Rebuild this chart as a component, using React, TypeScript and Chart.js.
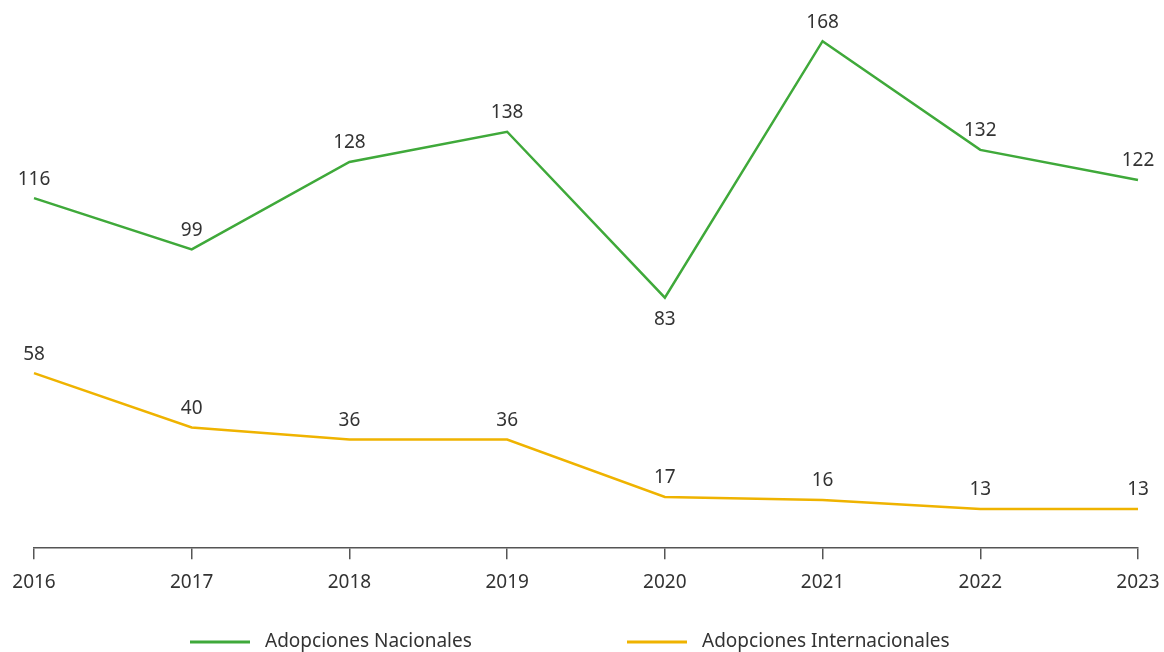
import React, { useEffect, useRef } from "react";
import { Chart, registerables } from "chart.js";

Chart.register(...registerables);

const years = ["2016", "2017", "2018", "2019", "2020", "2021", "2022", "2023"];
const nacionales = [116, 99, 128, 138, 83, 168, 132, 122];
const internacionales = [58, 40, 36, 36, 17, 16, 13, 13];
const seriesNames = ["Adopciones Nacionales", "Adopciones Internacionales"];
const seriesColors = ["#3fa93a", "#efb300"];
const labelBelow = [[false, false, false, false, true, false, false, false], [false, false, false, false, false, false, false, false]];

const FONT = "'Noto Sans', sans-serif";
const TEXT = "#333333";

const valueLabels = {
  id: "valueLabels",
  afterDatasetsDraw(chart: any) {
    const ctx = chart.ctx;
    ctx.save();
    ctx.font = `19px ${FONT}`;
    ctx.fillStyle = TEXT;
    ctx.textAlign = "center";
    ctx.textBaseline = "middle";
    chart.data.datasets.forEach((ds: any, di: number) => {
      const meta = chart.getDatasetMeta(di);
      meta.data.forEach((pt: any, i: number) => {
        const below = labelBelow[di][i];
        ctx.fillText(String(ds.data[i]), pt.x, below ? pt.y + 22 : pt.y - 19);
      });
    });
    ctx.restore();
  },
};

const customLegend = {
  id: "customLegend",
  afterDraw(chart: any) {
    const ctx = chart.ctx;
    ctx.save();
    ctx.font = `19px ${FONT}`;
    ctx.textBaseline = "middle";
    ctx.textAlign = "left";
    const y = 642;
    const starts = [190, 627];
    chart.data.datasets.forEach((ds: any, di: number) => {
      const x = starts[di];
      ctx.strokeStyle = ds.borderColor;
      ctx.lineWidth = 3;
      ctx.beginPath();
      ctx.moveTo(x, y);
      ctx.lineTo(x + 60, y);
      ctx.stroke();
      ctx.fillStyle = TEXT;
      ctx.fillText(ds.label, x + 75, y);
    });
    ctx.restore();
  },
};

export default function App() {
  const ref = useRef<HTMLCanvasElement>(null);
  useEffect(() => {
    if (!ref.current) return;
    const chart = new Chart(ref.current, {
      type: "line",
      data: {
        labels: years,
        datasets: [
          {
            label: seriesNames[0],
            data: nacionales,
            borderColor: seriesColors[0],
            backgroundColor: seriesColors[0],
            borderWidth: 2.5,
            pointRadius: 0,
            tension: 0,
          },
          {
            label: seriesNames[1],
            data: internacionales,
            borderColor: seriesColors[1],
            backgroundColor: seriesColors[1],
            borderWidth: 2.5,
            pointRadius: 0,
            tension: 0,
          },
        ],
      },
      options: {
        animation: false,
        responsive: false,
        maintainAspectRatio: false,
        layout: { padding: { left: 34, right: 26, top: 5, bottom: 46 } },
        plugins: {
          legend: { display: false },
          tooltip: { enabled: false },
        },
        scales: {
          x: {
            offset: false,
            afterFit: (scale: any) => {
              scale.paddingLeft = 0;
              scale.paddingRight = 0;
            },
            grid: {
              drawOnChartArea: false,
              drawTicks: true,
              tickLength: 11,
              color: "#555555",
              lineWidth: 1.5,
            },
            border: { display: true, color: "#555555", width: 1.5 },
            ticks: {
              color: TEXT,
              font: { family: FONT, size: 19 },
              padding: 12,
              maxRotation: 0,
              autoSkip: false,
            },
          },
          y: {
            display: false,
            min: 0,
            max: 180,
          },
        },
      },
      plugins: [valueLabels, customLegend],
    });
    return () => chart.destroy();
  }, []);
  return (
    <div style={{ position: "fixed", left: 0, top: 0, width: 1164, height: 652, background: "#fff" }}>
      <canvas ref={ref} width={1164} height={652} style={{ width: 1164, height: 652, display: "block" }} />
    </div>
  );
}
